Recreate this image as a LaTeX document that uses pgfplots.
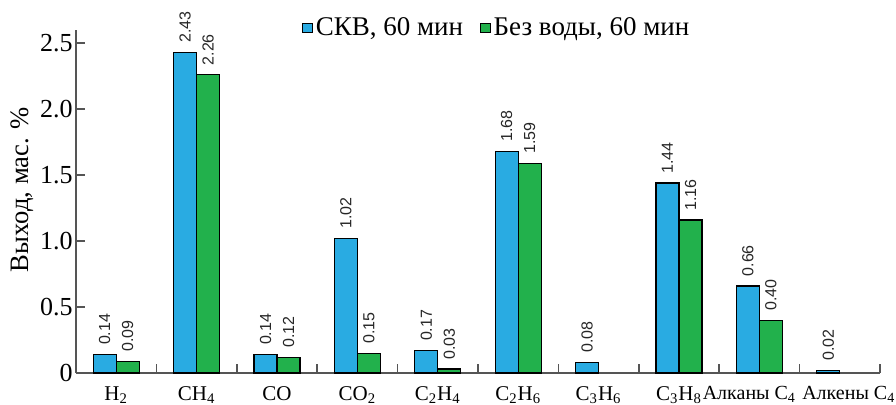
\documentclass[border=0pt]{standalone}
\usepackage{fontspec}
\setmainfont{Liberation Serif}
\setsansfont{Liberation Sans}
\usepackage{pgfplots}
\pgfplotsset{compat=1.18}
\definecolor{skvblue}{RGB}{41,171,226}
\definecolor{drygreen}{RGB}{34,177,76}
\definecolor{axisgray}{RGB}{85,85,85}

\begin{document}
\begin{tikzpicture}
\begin{axis}[
  at={(38pt,16pt)}, anchor=south west,
  scale only axis, width=402pt, height=171.5pt,
  xmin=-0.5, xmax=9.5, ymin=0, ymax=2.6,
  axis x line=bottom, axis y line=left,
  axis line style={axisgray, line width=0.8pt, -},
  ybar=0pt, bar width=11.5pt,
  legend image code/.code={\draw[#1,draw=black,line width=0.5pt] (0pt,-2.4pt) rectangle (4.8pt,2.4pt);},
  tick align=inside,
  xtick={0,...,9},
  xticklabels={H\textsubscript{2}, CH\textsubscript{4}, CO, CO\textsubscript{2},
    C\textsubscript{2}H\textsubscript{4}, C\textsubscript{2}H\textsubscript{6},
    C\textsubscript{3}H\textsubscript{6}, C\textsubscript{3}H\textsubscript{8},
    {\fontsize{10}{12}\selectfont Алканы C\textsubscript{4}\hspace*{10pt}},
    {\fontsize{10}{12}\selectfont\hspace*{9pt}Алкены C\textsubscript{4}}},
  major x tick style={draw=none},
  minor xtick={-0.5,0.5,...,9.5},
  minor tick length=4.5pt,
  minor x tick style={axisgray, line width=0.8pt},
  ytick={0,0.5,1,1.5,2,2.5},
  yticklabels={0,0.5,1.0,1.5,2.0,2.5},
  major tick length=4.5pt,
  y tick style={axisgray, line width=0.8pt},
  x tick label style={font=\fontsize{10.5}{12}\selectfont, inner sep=1pt, yshift=-5.5pt},
  y tick label style={font=\fontsize{13}{13}\selectfont, inner sep=1.5pt},
  ylabel={Выход, мас. \%},
  ylabel style={at={(axis description cs:-0.0672,0.535)}, anchor=center,
    font=\fontsize{13.3}{13.3}\selectfont},
  legend style={at={(axis description cs:0.524,1.006)}, anchor=center,
    draw=none, fill=none, font=\fontsize{13.5}{14}\selectfont,
    /tikz/every even column/.append style={column sep=7pt},
    nodes={inner xsep=1.5pt}},
  legend columns=2,
  nodes near coords={\pgfmathprintnumber[fixed,fixed zerofill,precision=2,assume math mode=true]{\pgfplotspointmeta}},
  nodes near coords style={font=\sffamily\fontsize{8}{8}\selectfont, rotate=90,
    anchor=west, inner xsep=4.5pt, inner ysep=0pt, text=black!85},
  clip=false,
]
\addplot[fill=skvblue, draw=black, line width=0.6pt] coordinates {
  (0,0.14) (1,2.43) (2,0.14) (3,1.02) (4,0.17)
  (5,1.68) (6,0.08) (7,1.44) (8,0.66) (9,0.02)};
\addplot[fill=drygreen, draw=black, line width=0.6pt] coordinates {
  (0,0.09) (1,2.26) (2,0.12) (3,0.15) (4,0.03)
  (5,1.59) (7,1.16) (8,0.40)};
\legend{{СКВ, 60 мин}, {Без воды, 60 мин}}
\end{axis}
\pgfresetboundingbox
\useasboundingbox (0,0) rectangle (448pt,202.5pt);
\end{tikzpicture}
\end{document}
